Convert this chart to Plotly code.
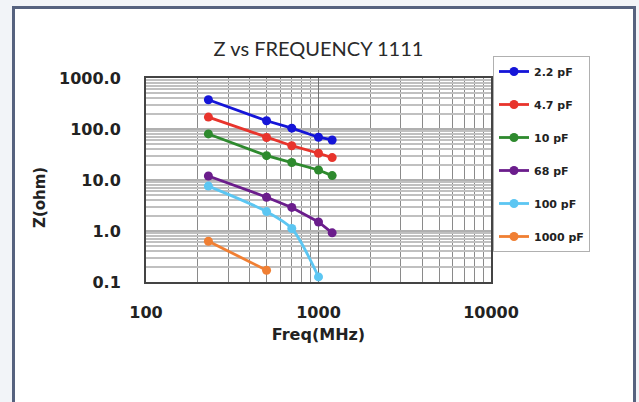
import plotly.graph_objects as go

freq = [230, 500, 700, 1000, 1200]
series_names = ["2.2 pF", "4.7 pF", "10 pF", "68 pF", "100 pF", "1000 pF"]
z_2p2 = [374, 145, 104, 69, 61]
z_4p7 = [171, 68, 47, 33.5, 27.5]
z_10 = [80, 30, 22, 15.7, 12.2]
z_68 = [12.0, 4.6, 2.9, 1.5, 0.92]
z_100 = [7.6, 2.4, 1.12, 0.126]
z_1000 = [0.63, 0.17]
colors = ["#1515d8", "#e8342c", "#2e8a2e", "#6b1d8c", "#5cc6f2", "#f07f33"]

y_tickvals = [0.1, 1, 10, 100, 1000]
y_ticktext = ["0.1", "1.0", "10.0", "100.0", "1000.0"]
x_tickvals = [100, 1000, 10000]
x_ticktext = ["100", "1000", "10000"]

all_z = [z_2p2, z_4p7, z_10, z_68, z_100, z_1000]

W, H = 639, 402
L, R, T, B = 146, 491, 78, 282

fig = go.Figure()
for i, (name, z, c) in enumerate(zip(series_names, all_z, colors)):
    fig.add_trace(go.Scatter(
        x=freq[:len(z)], y=z, name=name, mode="lines+markers",
        line=dict(color=c, width=2.8, shape="spline" if name == "100 pF" else "linear", smoothing=0.8),
        marker=dict(color=c, size=9),
        legendgroup=name,
    ))

minor_vals = [m * 10 ** e for e in range(-2, 5) for m in range(2, 10)]

axis_font = dict(family="DejaVu Sans", size=16, color="#222222", weight="bold")

fig.update_layout(
    width=W, height=H,
    margin=dict(l=L, r=W - R, t=T, b=H - B, autoexpand=False),
    paper_bgcolor="#f2f4f8",
    plot_bgcolor="white",
    title=dict(text="Z vs FREQUENCY 1111", x=0.5, xref="paper", xanchor="center",
               y=0.878, yref="container", yanchor="middle",
               font=dict(family="Lato", size=20, color="#2a2a2a")),
    showlegend=True,
    legend=dict(x=(493 - L) / (R - L), xanchor="left", y=(B - 56) / (B - T), yanchor="top",
                bgcolor="white", bordercolor="#b0b0b0", borderwidth=1,
                font=dict(family="DejaVu Sans", size=11, color="#222222", weight="bold"),
                tracegroupgap=14, itemwidth=30, entrywidth=66),
    xaxis=dict(type="log", range=[2, 4], tickmode="array", tickvals=x_tickvals, ticktext=x_ticktext,
               tickfont=axis_font, ticks="", ticklabelstandoff=15,
               showgrid=True, gridcolor="#707070", gridwidth=1,
               minor=dict(tickvals=minor_vals, showgrid=True, gridcolor="#8a8a8a", gridwidth=1),
               showline=True, linecolor="#444444", linewidth=2, mirror=True,
               title=dict(text="Freq(MHz)", font=axis_font, standoff=8),
               zeroline=False),
    yaxis=dict(type="log", range=[-1, 3], tickmode="array", tickvals=y_tickvals, ticktext=y_ticktext,
               tickfont=axis_font, ticks="", ticklabelstandoff=20,
               showgrid=True, gridcolor="#b0b0b0", gridwidth=2,
               minor=dict(tickvals=minor_vals, showgrid=True, gridcolor="#c0c0c0", gridwidth=1.5),
               showline=True, linecolor="#444444", linewidth=2, mirror=True,
               zeroline=False),
    annotations=[dict(text="Z(ohm)", textangle=-90, xref="paper", yref="paper",
                      x=(40 - L) / (R - L), y=(B - 197) / (B - T), xanchor="center", yanchor="middle",
                      showarrow=False, font=dict(family="DejaVu Sans", size=15, color="#222222", weight="bold"))],
    shapes=[dict(type="rect", xref="paper", yref="paper", layer="below",
                 x0=(13.5 - L) / (R - L), x1=(634.5 - L) / (R - L),
                 y0=(B - 420) / (B - T), y1=(B - 7.5) / (B - T),
                 fillcolor="white", line=dict(color="#56627f", width=3))],
)

fig.write_html("out.html", config={"displayModeBar": False},
               post_script="document.body.style.margin='0';")
